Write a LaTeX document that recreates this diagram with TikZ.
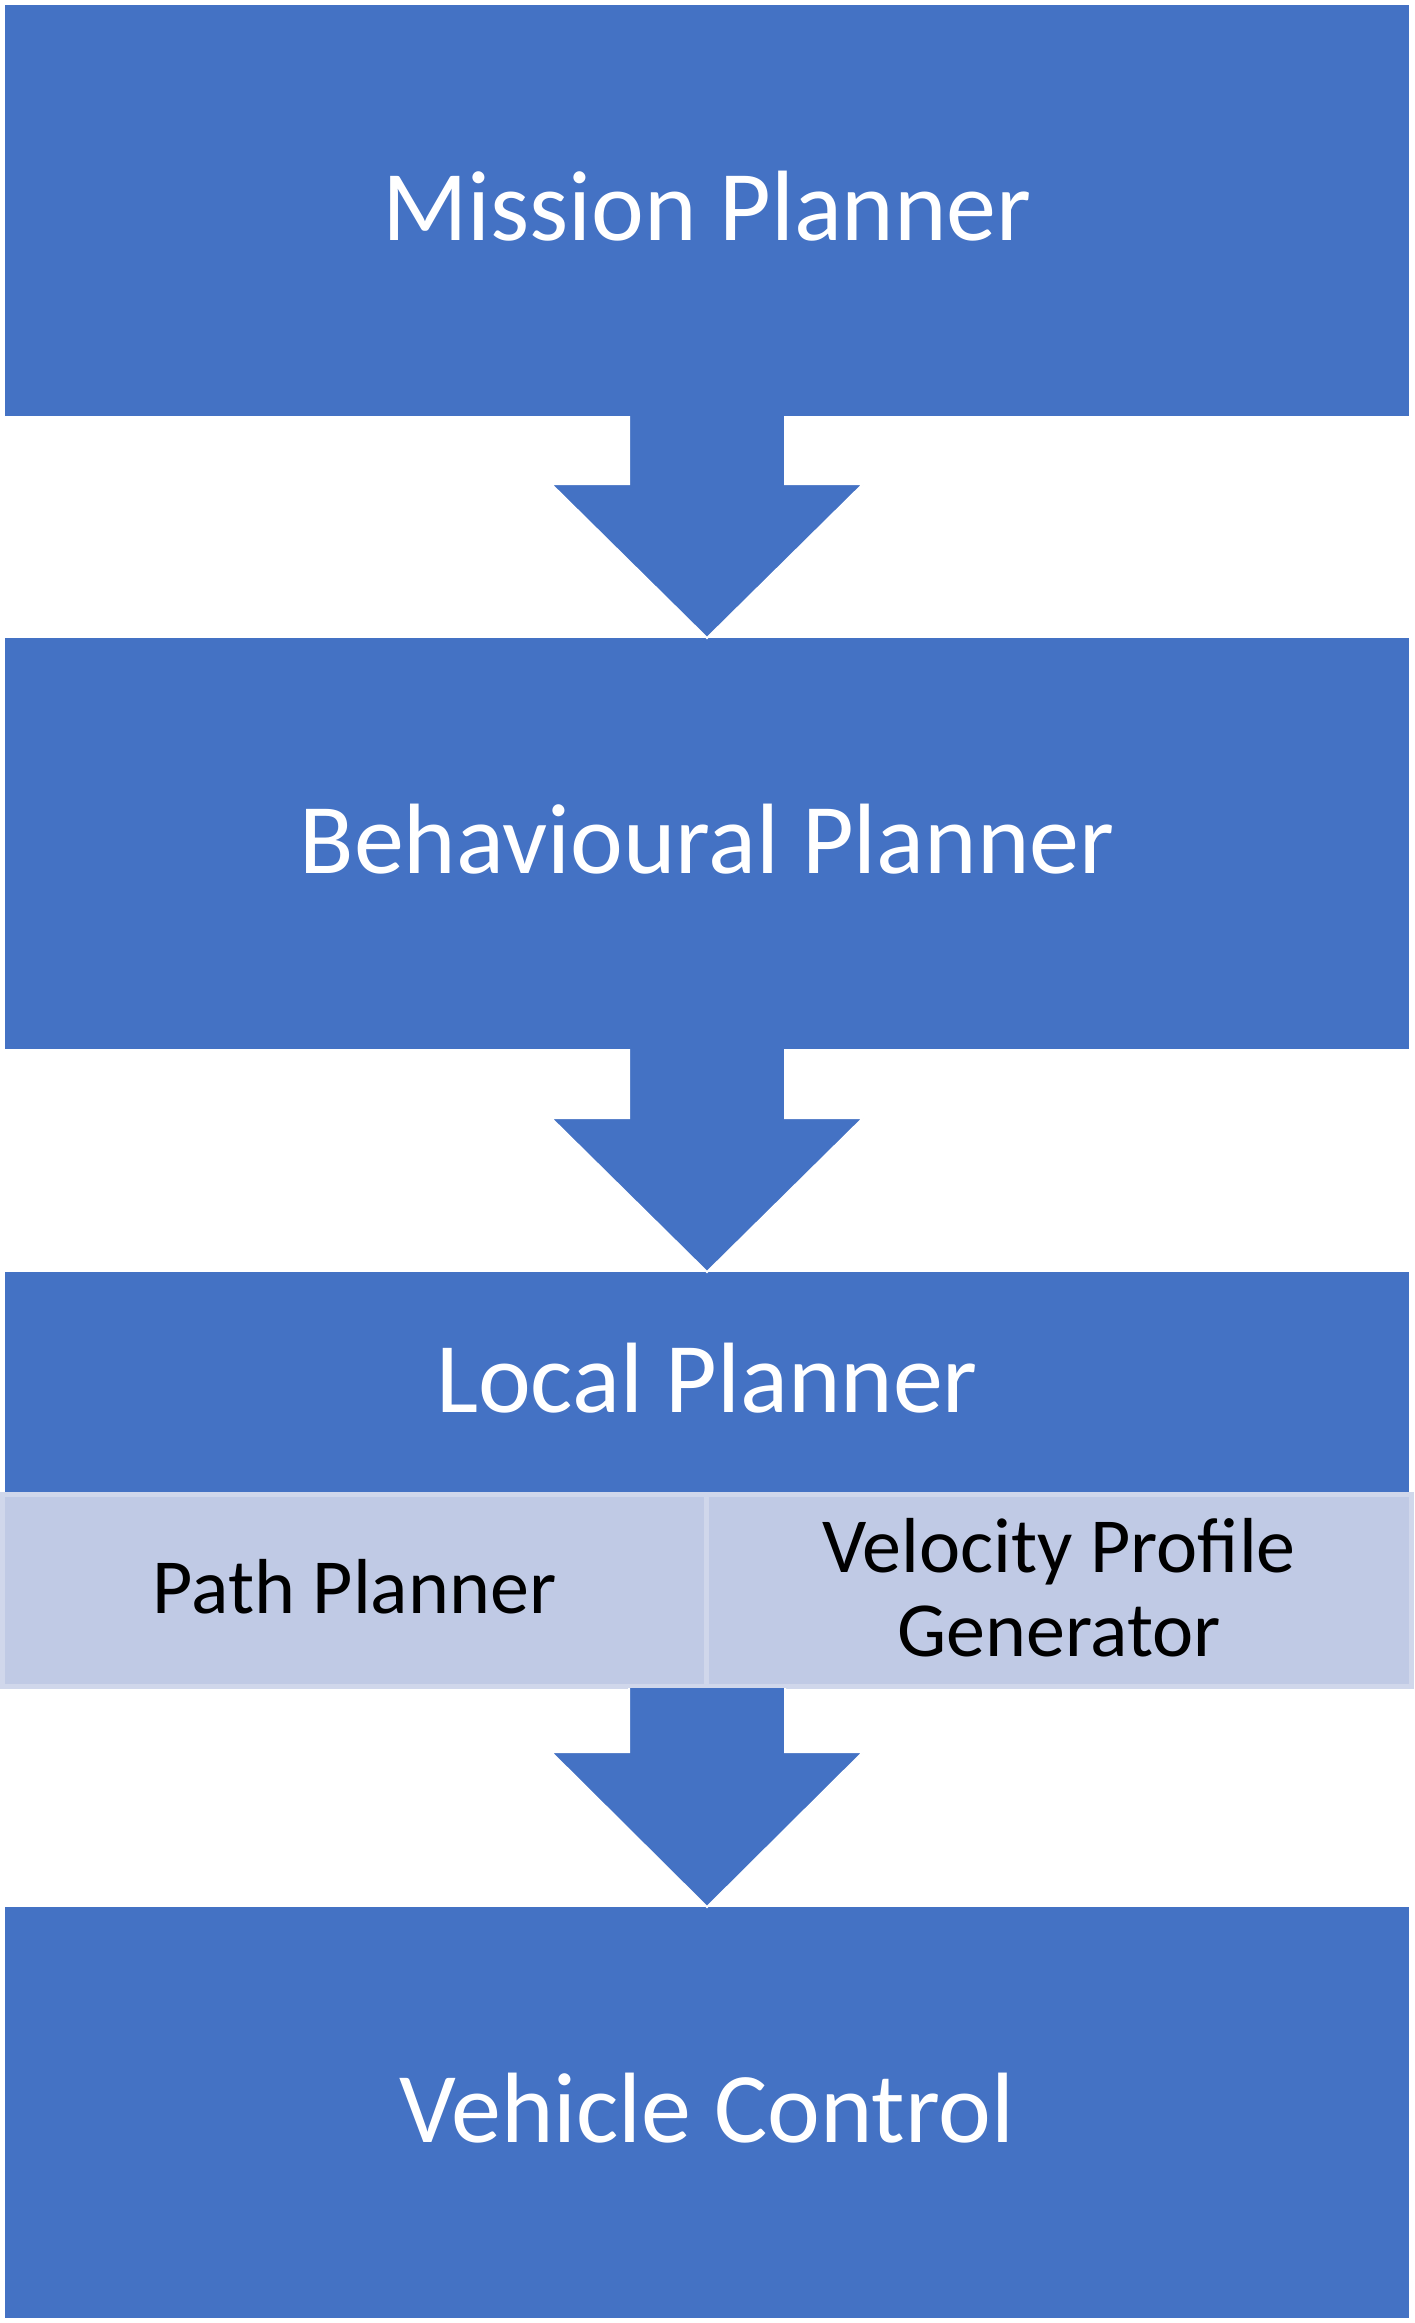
\documentclass[tikz,border=0pt]{standalone}
\usepackage{fontspec}
\setmainfont{Carlito}
\usetikzlibrary{calc}
\definecolor{mainblue}{HTML}{4472C4}
\definecolor{subfill}{HTML}{C0CAE5}
\definecolor{subline}{HTML}{D0D7EB}
\tikzset{
  bigbox/.style={fill=mainblue, draw=none, inner sep=0pt, outer sep=0pt,
    minimum width=1404pt, text=white, font=\fontsize{100}{120}\selectfont},
  subbox/.style={fill=subfill, draw=subline, line width=5pt, inner sep=0pt, outer sep=0pt,
    minimum height=191.5pt, text=black, align=center, font=\fontsize{78}{84}\selectfont},
  boxtext/.style={inner sep=0pt, align=center},
  blockarrow/.style={fill=mainblue, draw=white, line width=2pt, line join=miter}
}
\begin{document}
\begin{tikzpicture}[x=1pt,y=-1pt]
\useasboundingbox (0,0) rectangle (1414,2323);
\fill[white] (0,0) rectangle (1414,2323);

\node[bigbox, minimum height=411pt] (mission) at (707,210.5) {};
\node[bigbox, minimum height=411pt] (behav) at (707,843.5) {};
\node[bigbox, minimum height=220pt] (local) at (707,1382) {};
\node[subbox, minimum width=704pt] (pathp) at (354.5,1590.25) {};
\node[subbox, minimum width=705pt] (velp) at (1059,1590.25) {};
\node[bigbox, minimum height=411pt] (vehicle) at (707,2112.5) {};
\coordinate (subbot) at (707,1688);

\node[boxtext, text=white, font=\fontsize{100}{120}\selectfont, yshift=4pt] (missiont) at (mission) {Mission Planner};
\node[boxtext, text=white, font=\fontsize{100}{120}\selectfont, yshift=4pt] (behavt) at (behav) {Behavioural Planner};
\node[boxtext, text=white, font=\fontsize{100}{120}\selectfont, yshift=4pt] (localt) at (local) {Local Planner};
\node[boxtext, text=black, font=\fontsize{78}{84}\selectfont, yshift=4pt] (patht) at (pathp) {Path Planner};
\node[boxtext, text=black, font=\fontsize{78}{84}\selectfont, yshift=3pt] (velt) at (velp) {Velocity Profile\\Generator};
\node[boxtext, text=white, font=\fontsize{100}{120}\selectfont, yshift=4pt] (vehiclet) at (vehicle) {Vehicle Control};

\filldraw[blockarrow] ($(mission.south)+(-78,0)$) -- ($(behav.north)+(-78,-154)$)
  -- ($(behav.north)+(-156,-154)$) -- (behav.north) -- ($(behav.north)+(156,-154)$)
  -- ($(behav.north)+(78,-154)$) -- ($(mission.south)+(78,0)$);
\filldraw[blockarrow] ($(behav.south)+(-78,0)$) -- ($(local.north)+(-78,-154)$)
  -- ($(local.north)+(-156,-154)$) -- (local.north) -- ($(local.north)+(156,-154)$)
  -- ($(local.north)+(78,-154)$) -- ($(behav.south)+(78,0)$);
\filldraw[blockarrow] ($(subbot)+(-78,0)$) -- ($(vehicle.north)+(-78,-155)$)
  -- ($(vehicle.north)+(-156,-155)$) -- (vehicle.north) -- ($(vehicle.north)+(156,-155)$)
  -- ($(vehicle.north)+(78,-155)$) -- ($(subbot)+(78,0)$);
\end{tikzpicture}
\end{document}
